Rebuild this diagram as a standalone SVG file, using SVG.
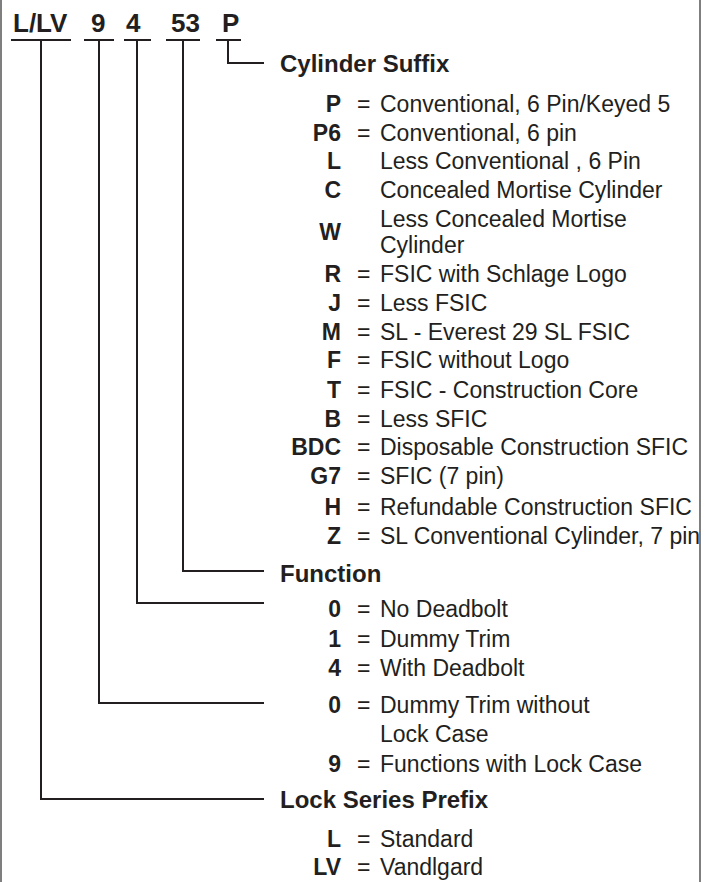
<svg xmlns="http://www.w3.org/2000/svg" width="714" height="882" viewBox="0 0 714 882">
<style>
.hdr{font-family:"Liberation Sans",Arial,sans-serif;font-weight:bold;font-size:26px;fill:#231f20}
.h{font-family:"Liberation Sans",Arial,sans-serif;font-weight:bold;font-size:24px;fill:#231f20}
.c{font-family:"Liberation Sans",Arial,sans-serif;font-weight:bold;font-size:23px;fill:#231f20;text-anchor:end}
.e{font-family:"Liberation Sans",Arial,sans-serif;font-size:23px;fill:#231f20}
.d{font-family:"Liberation Sans",Arial,sans-serif;font-size:23px;fill:#231f20}
.ln{fill:none;stroke:#231f20;stroke-width:2}
.bd{stroke:#555;stroke-width:1.5}
</style>
<rect width="714" height="882" fill="#fff"/>
<line class="bd" x1="1" y1="0" x2="1" y2="882"/>
<line class="bd" x1="700" y1="0" x2="700" y2="882"/>

<g id="header">
<text class="hdr" x="13" y="32">L/LV</text>
<text class="hdr" x="91" y="32">9</text>
<text class="hdr" x="126" y="32">4</text>
<text class="hdr" x="171" y="32">53</text>
<text class="hdr" x="222" y="32">P</text>
</g>

<g id="connectors">
<line class="ln" x1="11" y1="40" x2="71" y2="40"/>
<line class="ln" x1="84" y1="40" x2="114" y2="40"/>
<line class="ln" x1="124" y1="40" x2="151" y2="40"/>
<line class="ln" x1="166" y1="40" x2="200" y2="40"/>
<line class="ln" x1="216" y1="40" x2="241" y2="40"/>
<polyline class="ln" points="228,40 228,63 264,63"/>
<polyline class="ln" points="183,40 183,571 264,571"/>
<polyline class="ln" points="137,40 137,603 264,603"/>
<polyline class="ln" points="99,40 99,703 264,703"/>
<polyline class="ln" points="41,40 41,799 264,799"/>
</g>

<g id="cylinder-suffix">
<text class="h" x="280" y="72">Cylinder Suffix</text>
<text class="c" x="341" y="112">P</text><text class="e" x="357" y="112">=</text><text class="d" x="380" y="112">Conventional, 6 Pin/Keyed 5</text>
<text class="c" x="341" y="141">P6</text><text class="e" x="357" y="141">=</text><text class="d" x="380" y="141">Conventional, 6 pin</text>
<text class="c" x="341" y="169">L</text><text class="d" x="380" y="169">Less Conventional , 6 Pin</text>
<text class="c" x="341" y="198">C</text><text class="d" x="380" y="198">Concealed Mortise Cylinder</text>
<text class="c" x="341" y="240">W</text><text class="d" x="380" y="227">Less Concealed Mortise</text><text class="d" x="380" y="253">Cylinder</text>
<text class="c" x="341" y="282">R</text><text class="e" x="357" y="282">=</text><text class="d" x="380" y="282">FSIC with Schlage Logo</text>
<text class="c" x="341" y="311">J</text><text class="e" x="357" y="311">=</text><text class="d" x="380" y="311">Less FSIC</text>
<text class="c" x="341" y="340">M</text><text class="e" x="357" y="340">=</text><text class="d" x="380" y="340">SL - Everest 29 SL FSIC</text>
<text class="c" x="341" y="368">F</text><text class="e" x="357" y="368">=</text><text class="d" x="380" y="368">FSIC without Logo</text>
<text class="c" x="341" y="398">T</text><text class="e" x="357" y="398">=</text><text class="d" x="380" y="398">FSIC - Construction Core</text>
<text class="c" x="341" y="427">B</text><text class="e" x="357" y="427">=</text><text class="d" x="380" y="427">Less SFIC</text>
<text class="c" x="341" y="455">BDC</text><text class="e" x="357" y="455">=</text><text class="d" x="380" y="455">Disposable Construction SFIC</text>
<text class="c" x="341" y="484">G7</text><text class="e" x="357" y="484">=</text><text class="d" x="380" y="484">SFIC (7 pin)</text>
<text class="c" x="341" y="515">H</text><text class="e" x="357" y="515">=</text><text class="d" x="380" y="515">Refundable Construction SFIC</text>
<text class="c" x="341" y="544">Z</text><text class="e" x="357" y="544">=</text><text class="d" x="380" y="544">SL Conventional Cylinder, 7 pin</text>
</g>

<g id="function">
<text class="h" x="280" y="582">Function</text>
<text class="c" x="341" y="617">0</text><text class="e" x="357" y="617">=</text><text class="d" x="380" y="617">No Deadbolt</text>
<text class="c" x="341" y="647">1</text><text class="e" x="357" y="647">=</text><text class="d" x="380" y="647">Dummy Trim</text>
<text class="c" x="341" y="676">4</text><text class="e" x="357" y="676">=</text><text class="d" x="380" y="676">With Deadbolt</text>
</g>

<g id="lock-case">
<text class="c" x="341" y="713">0</text><text class="e" x="357" y="713">=</text><text class="d" x="380" y="713">Dummy Trim without</text><text class="d" x="380" y="742">Lock Case</text>
<text class="c" x="341" y="772">9</text><text class="e" x="357" y="772">=</text><text class="d" x="380" y="772">Functions with Lock Case</text>
</g>

<g id="lock-series-prefix">
<text class="h" x="280" y="808">Lock Series Prefix</text>
<text class="c" x="341" y="847">L</text><text class="e" x="357" y="847">=</text><text class="d" x="380" y="847">Standard</text>
<text class="c" x="341" y="875">LV</text><text class="e" x="357" y="875">=</text><text class="d" x="380" y="875">Vandlgard</text>
</g>
</svg>
